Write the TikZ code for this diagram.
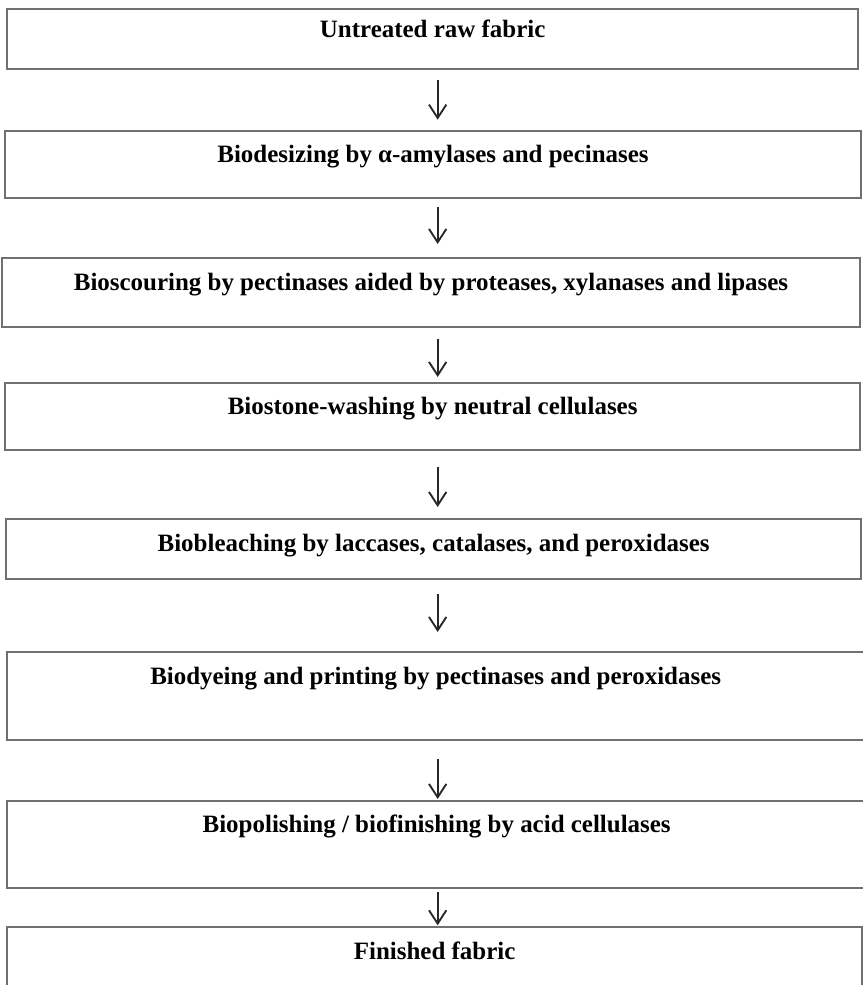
\documentclass[tikz,border=0pt]{standalone}
\usepackage{fontspec}
\setmainfont{Liberation Serif}
\usepackage{xcolor}
\usepackage{tikz}
\usetikzlibrary{positioning,arrows.meta}
\definecolor{boxgray}{RGB}{112,112,112}
\definecolor{arrowgray}{RGB}{40,40,40}

\begin{document}
\begin{tikzpicture}[
  stage/.style={draw=boxgray, line width=1.8pt, rectangle, anchor=north, inner xsep=0pt, inner ysep=0pt,
    text height=0.96cm, font=\fontsize{21.3}{25}\selectfont\bfseries},
  flow/.style={-{Straight Barb[length=4mm,width=5.2mm]}, draw=arrowgray, line width=1.6pt}
]
\useasboundingbox (0,0) rectangle (25.89,-29.55);
\clip (0,0) rectangle (25.89,-29.55);

% process stages, top to bottom
\node[stage, minimum width=25.52cm, text height=0.86cm, text depth=0.94cm] (s1) at (12.98,-0.24) {Untreated raw fabric};
\node[stage, minimum width=25.68cm, text depth=1.07cm] (s2) at (12.99,-3.89) {Biodesizing by α-amylases and pecinases};
\node[stage, minimum width=25.74cm, text depth=1.10cm] (s3) at (12.93,-7.71) {Bioscouring by pectinases aided by proteases, xylanases and lipases};
\node[stage, minimum width=25.65cm, text depth=1.05cm] (s4) at (12.98,-11.45) {Biostone-washing by neutral cellulases};
\node[stage, minimum width=25.65cm, text depth=0.84cm] (s5) at (13.01,-15.54) {Biobleaching by laccases, catalases, and peroxidases};
\node[stage, minimum width=25.71cm, text depth=1.67cm] (s6) at (13.07,-19.53) {Biodyeing and printing by pectinases and peroxidases};
\node[stage, minimum width=25.77cm, text depth=1.67cm] (s7) at (13.10,-23.99) {Biopolishing / biofinishing by acid cellulases};
\node[stage, minimum width=25.65cm, text depth=1.20cm] (s8) at (13.04,-27.78) {Finished fabric};

\coordinate (axis) at (13.13,0);
\foreach \a/\b/\s/\e in {s1/s2/0.30/0.30, s2/s3/0.24/0.39, s3/s4/0.35/0.14, s4/s5/0.50/0.33,
                         s5/s6/0.42/0.57, s6/s7/0.56/0.02, s7/s8/0.09/0.02}
  \draw[flow, shorten <=\s cm, shorten >=\e cm] (\a.south -| axis) -- (\b.north -| axis);
\end{tikzpicture}
\end{document}
